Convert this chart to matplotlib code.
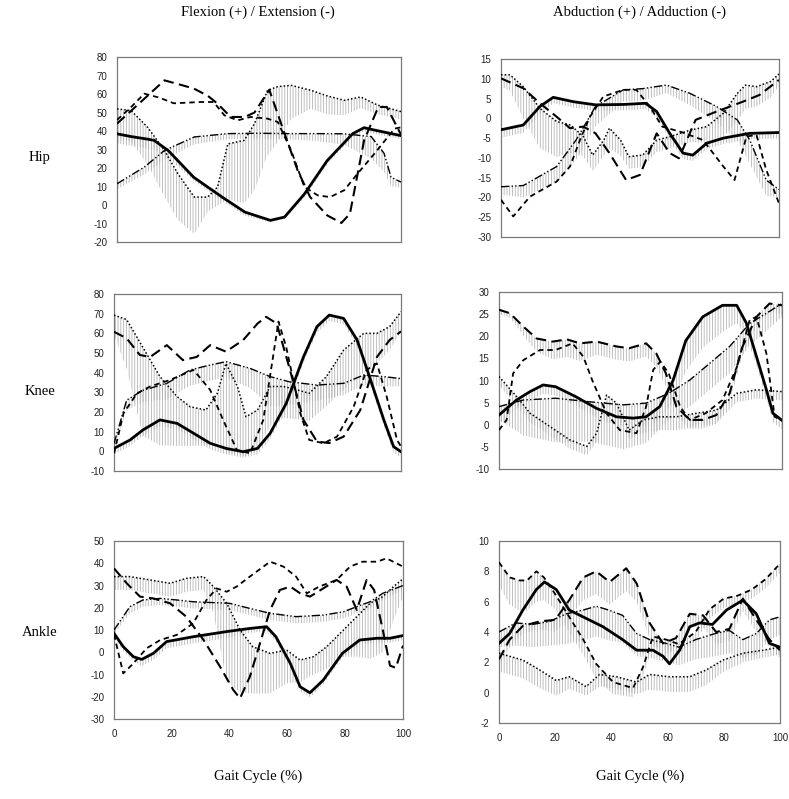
import numpy as np
import matplotlib
matplotlib.use('Agg')
import matplotlib.pyplot as plt

plt.rcParams['hatch.color'] = '#b4b4b4'
plt.rcParams['hatch.linewidth'] = 0.6
plt.rcParams['axes.unicode_minus'] = False

# ---------------- Hip, flexion / extension ----------------
HF_SOLID_X = [0, 5, 10, 13, 18, 27, 37, 45, 54, 59, 66, 74, 83, 87, 91, 100]
HF_SOLID_Y = [38.5, 37, 35.8, 35, 29.5, 15, 4.3, -3.8, -8.3, -6.5, 6, 24, 38.6, 41.8, 40.4, 37.5]
HF_SOLID_SD = [5, 5, 5, 5, 4, 2, 2, 2, 1, 1, 2, 2, 2, 2, 2, 2]
HF_LONG_X = [0, 5, 10, 16.7, 21, 27, 32, 35.4, 40, 45, 48.4, 53.6, 59, 63.6, 68, 74, 79, 82, 87, 92, 95, 100]
HF_LONG_Y = [44, 51, 58, 67.4, 65.6, 63, 59, 54.8, 47.6, 47.6, 50, 62.3, 38.6, 18.7, 4.3, -5.6, -9.7, -4.7, 35, 53, 53, 38]
HF_SHORT_X = [0, 5, 9.6, 15, 20, 29.6, 34, 37.8, 42.5, 47, 53, 56.6, 61.3, 66, 70.7, 75, 80, 84.7, 90.6, 97.7, 100]
HF_SHORT_Y = [46, 53, 60.2, 58, 55, 55.7, 55.7, 48.5, 45.8, 47.6, 46.7, 44.9, 29.5, 9.7, 5.2, 4.3, 8, 17, 27.7, 41.3, 42]
HF_DOT_X = [0, 5, 10.8, 16.7, 21.4, 27.2, 31.9, 35.4, 39, 44.8, 48.4, 53, 56.6, 61.3, 68.3, 74, 80, 85.8, 91.8, 100]
HF_DOT_Y = [52, 51, 42, 29.5, 17, 4.3, 4.3, 9.7, 33, 35, 44, 62, 64, 64.7, 62, 59, 56.6, 58.4, 54, 50.5]
HF_DOT_SD = [15, 17, 20, 25, 25, 20, 8, 10, 30, 34, 36, 35, 30, 18, 10, 10, 8, 6, 5, 4]
HF_DD_X = [0, 9.6, 16.7, 27.2, 39, 50, 60, 70, 80, 89.5, 94, 96.5, 100]
HF_DD_Y = [11.5, 20.5, 29.5, 36.8, 38.6, 38.8, 38.6, 38.6, 38.5, 37, 28, 15, 12.4]
HF_DD_SD = [3, 4, 5, 4, 3, 3, 3, 4, 6, 12, 10, 5, 3]

# ---------------- Hip, abduction / adduction ----------------
HA_SOLID_X = [0, 8, 14, 18.8, 26, 34, 44, 52, 56, 60.7, 65.5, 69, 74, 80, 89.5, 100]
HA_SOLID_Y = [-2.9, -1.7, 3, 5.3, 4.2, 3.4, 3.5, 3.8, 1.7, -3.8, -8.8, -9.3, -6.3, -5, -3.8, -3.6]
HA_SOLID_SD = [2, 2, 2, 1.5, 1.5, 1.5, 1.5, 1.5, 1.5, 1.5, 1.5, 1.5, 1.5, 1.5, 1.5, 1.5]
HA_LONG_X = [0, 8, 14, 20, 24.8, 29.6, 34, 39, 45, 50, 56, 60.7, 64, 70, 77.5, 87, 93, 100]
HA_LONG_Y = [10.1, 7.6, 3.8, 0.4, -2.5, -2.1, -3.8, -8.8, -15.6, -14.3, -3.8, -8.8, -10.1, -0.4, 1.7, 4.2, 5.9, 9.7]
HA_SHORT_X = [0, 4.4, 10.4, 20, 24.8, 28.4, 32, 36.8, 44, 48.7, 53.5, 58, 65, 72.7, 80, 84, 88.3, 91.9, 95.4, 100]
HA_SHORT_Y = [-20.6, -24.8, -19.8, -16, -12.2, -5.5, 0.4, 5.5, 7.2, 7.2, 3, -2.1, -3.5, -5.5, -12.2, -15.6, -4.6, -4.2, -13, -21.5]
HA_DOT_X = [0, 3.2, 8, 14, 20, 25, 29.6, 33, 37, 39, 43, 46, 51, 56, 61, 68, 74, 80, 85, 88, 92, 97, 100]
HA_DOT_Y = [11, 11, 8, 2.5, -0.8, -1.7, -4.6, -9.3, -5.5, -2.5, -5.5, -9.7, -9.3, -5.5, -4.6, -3, -2.1, 1.3, 6.3, 8.4, 8, 9.3, 11.2]
HA_DOT_SD = [3, 4, 8, 10, 9, 7, 5, 4, 4, 5, 4, 3, 3, 3, 3, 3, 4, 6, 7, 6, 5, 4, 3]
HA_DD_X = [0, 8, 20, 27, 34, 44, 51, 59.5, 68, 77.5, 85, 89.5, 95.4, 100]
HA_DD_Y = [-17.3, -17, -12.2, -5.5, 3, 7.2, 7.5, 8.4, 6.3, 3, -0.4, -5.5, -15.6, -18]
HA_DD_SD = [2, 3, 4, 5, 5, 3, 3, 2, 3, 4, 5, 6, 4, 2]

# ---------------- Knee, flexion / extension ----------------
KF_SOLID_X = [0, 5.6, 10, 16, 22, 27.7, 33.5, 39, 45, 50, 54.4, 60, 66, 70.7, 75, 80, 84.7, 89, 94, 97.4, 100]
KF_SOLID_Y = [1.5, 5.8, 10.8, 16, 14.2, 9.2, 4.1, 1.5, -0.2, 1.5, 9.2, 24.4, 48, 63.4, 69.3, 67.6, 56.6, 38, 16, 2.4, -0.2]
KF_SOLID_SD = [3] * 21
KF_LONG_X = [0, 4.4, 9, 12.6, 18.4, 24, 28.8, 33.5, 39, 45, 50, 53, 56.7, 61, 66, 70.7, 75, 80, 85.8, 91.6, 96, 100]
KF_LONG_Y = [60.8, 57.5, 49, 48, 54, 46.4, 48, 54, 50.7, 56.6, 65, 68.4, 65, 43, 16, 5, 4.2, 7.5, 21, 48, 56.6, 61]
KF_SHORT_X = [0, 3.3, 8, 12.6, 19.5, 27.7, 33.5, 38, 42.8, 47.4, 52, 57.3, 60, 64.9, 68, 73, 77.7, 83.5, 88, 91.6, 95, 98.6, 100]
KF_SHORT_Y = [-1, 19.3, 29.5, 33, 36.3, 41.4, 31.2, 16, 0.7, -1, 16, 66, 53, 19.3, 5.8, 4.1, 7.5, 22.7, 41.4, 44.7, 27.8, 5.8, 2.4]
KF_DOT_X = [0, 4.4, 10, 16, 22, 26.5, 32, 36, 39, 43, 46, 50, 54.4, 59, 64, 68, 74, 80, 87, 91.6, 96, 100]
KF_DOT_Y = [69.3, 67, 53, 38, 27.8, 22.7, 21, 29.5, 44.7, 33, 17.6, 21, 33, 33, 31.2, 29.5, 38, 51.5, 60, 60, 63.4, 71]
KF_DOT_SD = [10, 25, 45, 35, 25, 20, 18, 25, 45, 35, 20, 20, 20, 16, 15, 14, 15, 20, 20, 15, 12, 10]
KF_DD_X = [0, 4.4, 10, 18.4, 26.5, 33.5, 39, 47.4, 54.4, 61, 70.7, 80, 87, 94, 100]
KF_DD_Y = [4, 26, 31, 34.6, 41.4, 43.9, 45.6, 42.2, 38, 35.4, 33.7, 34.6, 38.8, 38, 37]
KF_DD_SD = [2, 5, 6, 8, 8, 8, 8, 10, 15, 12, 8, 6, 5, 5, 4]

# ---------------- Knee, abduction / adduction ----------------
KA_SOLID_X = [0, 6.2, 11, 15.6, 20, 27, 34.5, 41.5, 47.4, 52, 56.8, 61.5, 66, 72, 79, 84, 87.4, 91, 94.5, 96.8, 100]
KA_SOLID_Y = [2.2, 5.6, 7.5, 9, 8.6, 6.4, 3.7, 1.8, 1.5, 1.8, 4.1, 10, 19, 24.4, 27, 27, 23, 15.4, 7.9, 2.6, 1]
KA_SOLID_SD = [2, 2, 2, 2, 2, 2, 2, 2, 2, 2, 3, 5, 7, 7, 6, 4, 3, 2, 2, 2, 2]
KA_LONG_X = [0, 3.9, 8.6, 13.3, 19, 24, 28.6, 34.5, 41.5, 46, 52, 55.6, 59, 62.7, 67.4, 72, 76.8, 81.5, 86, 91, 95.6, 100]
KA_LONG_Y = [26, 25.2, 22.2, 19.5, 18.8, 19.3, 18.4, 18.8, 17.7, 17.3, 18.4, 16.1, 11.6, 4.1, 1.1, 1.1, 2.2, 7.1, 17.6, 24.4, 27.4, 27]
KA_LONG_SD = [1, 1, 2, 3, 4, 4, 4, 3, 3, 3, 3, 3, 3, 2, 2, 2, 2, 2, 2, 2, 2, 2]
KA_SHORT_X = [0, 2.7, 5, 8.6, 14.5, 20, 26, 29.8, 33, 38, 42.7, 48.6, 52, 54.5, 57, 60, 64, 67.4, 73, 79, 84, 88.6, 91, 94.5, 97.4, 100]
KA_SHORT_Y = [-1.2, 1.1, 11.6, 14.6, 16.9, 16.9, 18.4, 15.4, 10, 2.6, -1.2, -1.9, 4.1, 12.4, 14.3, 11.6, 4.1, 1.1, 2.6, 5.6, 13, 23.7, 24.4, 16.1, 1.8, 1]
KA_DOT_X = [0, 6.2, 11, 18, 25, 31, 34.5, 38, 41.5, 46, 51, 56.8, 62.7, 69.8, 76.8, 84, 91, 100]
KA_DOT_Y = [10.9, 6.4, 2.6, -0.4, -3.4, -4.9, -1.9, 6.7, 4.9, -1.2, 1.1, 1.8, 1.8, 2.6, 3.3, 7.1, 7.9, 7.5]
KA_DOT_SD = [2, 2, 2, 2, 2, 2, 2, 2, 2, 2, 3, 3, 3, 3, 3, 2, 2, 2]
KA_DD_X = [0, 8.6, 20, 32, 44, 52, 60, 67.4, 74.5, 81.5, 88.6, 94.5, 100]
KA_DD_Y = [4.1, 5.6, 6, 5.2, 4.5, 4.9, 7.1, 10.1, 13.9, 17.7, 22.9, 25.2, 27.4]
KA_DD_SD = [3, 8, 10, 9, 10, 9, 6, 6, 6, 6, 5, 4, 3]

# ---------------- Ankle, flexion / extension ----------------
AF_SOLID_X = [0, 3.2, 6.7, 9.6, 13.6, 18.2, 27.5, 39, 47, 52.8, 56, 61, 64.4, 67.8, 72.4, 79, 85, 91, 95.5, 100]
AF_SOLID_Y = [8.5, 2.5, -2, -3.2, -0.5, 4.8, 7, 9.3, 10.7, 11.5, 7, -5, -15.5, -18.2, -12.5, -0.5, 5.5, 6.3, 6.3, 7.5]
AF_SOLID_SD = [2, 2, 2, 3, 3, 3, 3, 3, 2, 2, 2, 2, 2, 2, 2, 2, 2, 2, 2, 2]
AF_LONG_X = [0, 4.4, 9, 13.6, 19.4, 25, 31, 36.7, 41.3, 43.6, 47, 50.5, 54, 57.4, 61, 64.4, 67.8, 72.4, 77, 80.5, 84, 87.4, 90, 93, 95.5, 97.5, 100]
AF_LONG_Y = [37.7, 31, 25, 24.2, 22, 16, 5.5, -6.5, -17, -20.7, -11, 4, 19, 28, 29.5, 26.5, 25, 28.7, 32.5, 29.5, 19, 32.5, 28, 10, -6, -7, 3]
AF_SHORT_X = [0, 3.2, 6.7, 11.3, 16, 21.7, 27.4, 32, 35.5, 39, 42.4, 47, 54, 58.6, 63, 66.7, 71, 77, 81.7, 86, 91, 94.3, 100]
AF_SHORT_Y = [8, -9.5, -5, 1.8, 5.5, 7.8, 13, 23.5, 28.7, 27.2, 29.5, 34, 40.7, 38.5, 34, 26.5, 29.5, 32.5, 38.5, 40.7, 40.7, 42.2, 38.5]
AF_DOT_X = [0, 5.5, 12.5, 19.4, 25, 31, 34.4, 39, 43.6, 48, 54, 59.7, 64.4, 69, 73.6, 79.4, 84, 88.6, 93, 96.7, 100]
AF_DOT_Y = [34, 34, 32.5, 31, 33.2, 34, 29.5, 22, 10, 2.5, -0.5, 1, -3.5, -2, 2.5, 10, 16, 22, 25, 29.5, 33]
AF_DOT_SD = [6, 6, 6, 6, 6, 6, 12, 35, 28, 21, 18, 15, 10, 8, 10, 12, 18, 25, 25, 15, 8]
AF_DD_X = [0, 5.5, 10, 16, 21.7, 27.4, 40, 47, 54, 63, 72.4, 79.4, 84, 88.6, 93, 100]
AF_DD_Y = [10, 20.5, 23.5, 24.2, 23.5, 22.7, 22, 19.7, 17.5, 16, 16.7, 18.2, 20.5, 22.7, 26.5, 30]
AF_DD_SD = [2, 3, 3, 3, 3, 3, 3, 3, 3, 3, 3, 3, 3, 3, 3, 2]

# ---------------- Ankle, abduction / adduction ----------------
AA_SOLID_X = [0, 3.8, 8.5, 13.3, 16.2, 20.4, 25, 31, 37, 44, 49, 54.8, 58.4, 60.7, 64.3, 67.9, 71.4, 76, 81, 86.8, 91.6, 96.3, 100]
AA_SOLID_Y = [3.25, 3.9, 5.45, 6.8, 7.3, 6.8, 5.45, 4.9, 4.35, 3.5, 2.8, 2.8, 2.4, 1.9, 2.8, 4.35, 4.6, 4.5, 5.45, 6.1, 5.2, 3.25, 3]
AA_LONG_X = [0, 3.8, 8.5, 14.5, 20, 25, 30, 34.6, 39.4, 45.3, 49, 53.6, 58.4, 63, 67.9, 72.6, 77.3, 82, 86.8, 91.6, 96.3, 100]
AA_LONG_Y = [2.2, 3.5, 4.4, 4.7, 4.8, 6.1, 7.6, 8, 7.3, 8.2, 7.2, 4.6, 3.25, 3.6, 5.2, 5.1, 4, 4.2, 6.2, 4.8, 3.5, 2.8]
AA_LONG_SD = [0.5, 0.5, 0.5, 0.5, 0.8, 1.2, 1.5, 1.5, 1.5, 1.5, 1.2, 1, 0.8, 0.8, 0.8, 0.8, 0.8, 0.8, 0.8, 0.8, 0.5, 0.5]
AA_SHORT_X = [0, 3.8, 7.3, 10, 13.3, 16, 20, 25, 30, 34.6, 40.6, 47.7, 51.3, 54.8, 59.5, 64, 70, 75, 80, 85, 90, 95, 100]
AA_SHORT_Y = [8.6, 7.6, 7.4, 7.4, 8, 7.6, 6.5, 5, 3.5, 1.9, 0.7, 0.3, 1.7, 3.7, 3.5, 3.2, 4, 5.5, 6.2, 6.4, 6.8, 7.5, 8.5]
AA_SHORT_SD = [1.5, 1.8, 2, 2, 2, 1.5, 1, 1, 1, 1, 0.8, 0.6, 0.6, 0.6, 0.6, 0.6, 0.6, 0.6, 0.6, 0.6, 0.6, 0.6, 0.6]
AA_DOT_X = [0, 8.5, 14.5, 20.4, 25, 31, 35.8, 41.8, 49, 53.6, 60.7, 67.9, 73.8, 79.7, 86.8, 94, 100]
AA_DOT_Y = [2.6, 2.15, 1.5, 0.8, 1.05, 0.4, 1.2, 1.05, 0.7, 1.2, 1.05, 1.05, 1.5, 2.15, 2.6, 2.8, 3]
AA_DOT_SD = [1.2, 1.2, 1.2, 1.0, 0.8, 0.6, 0.8, 0.8, 0.8, 1, 1, 1, 1, 0.8, 0.6, 0.5, 0.5]
AA_DD_X = [0, 6, 12, 18, 24, 30, 34.6, 39, 44, 49, 53.6, 59.5, 64, 70, 77, 82, 86.8, 91.6, 96.3, 100]
AA_DD_Y = [4, 4.6, 4.5, 4.7, 5.2, 5.45, 5.7, 5.45, 5.1, 3.9, 3.5, 3.25, 3, 3.5, 3.9, 4.1, 3.5, 3.9, 4.8, 5]
AA_DD_SD = [1, 1.5, 1.5, 1.6, 2, 2, 2, 2, 1.8, 1.5, 1.2, 1.2, 1.2, 1.3, 1.5, 1.5, 1.2, 1.4, 1.3, 1.2]

COL_TITLES = ['Flexion (+) / Extension (-)', 'Abduction (+) / Adduction (-)']
ROW_TITLES = ['Hip', 'Knee', 'Ankle']
X_TICKS = [0, 20, 40, 60, 80, 100]

STYLES = {
    'solid': dict(linestyle='-', linewidth=2.0),
    'long': dict(linestyle=(0, (5, 2.6)), linewidth=1.5),
    'short': dict(linestyle=(0, (3, 2.2)), linewidth=1.3),
    'dot': dict(linestyle=(0, (1, 1.4)), linewidth=1.1),
    'dd': dict(linestyle=(0, (6, 1.6, 1, 1.6, 1, 1.6)), linewidth=1.0),
}

# panel: (axes rect, ylim, yticks, series list)
PANELS = [
    ([0.1483, 0.6971, 0.3600, 0.2315], (-20, 80), range(-20, 81, 10), [
        ('dd', HF_DD_X, HF_DD_Y, HF_DD_SD), ('dot', HF_DOT_X, HF_DOT_Y, HF_DOT_SD),
        ('short', HF_SHORT_X, HF_SHORT_Y, None), ('long', HF_LONG_X, HF_LONG_Y, None),
        ('solid', HF_SOLID_X, HF_SOLID_Y, HF_SOLID_SD)]),
    ([0.6350, 0.7034, 0.3523, 0.2228], (-30, 15), range(-30, 16, 5), [
        ('dd', HA_DD_X, HA_DD_Y, HA_DD_SD), ('dot', HA_DOT_X, HA_DOT_Y, HA_DOT_SD),
        ('short', HA_SHORT_X, HA_SHORT_Y, None), ('long', HA_LONG_X, HA_LONG_Y, None),
        ('solid', HA_SOLID_X, HA_SOLID_Y, HA_SOLID_SD)]),
    ([0.1445, 0.4105, 0.3638, 0.2215], (-10, 80), range(-10, 81, 10), [
        ('dd', KF_DD_X, KF_DD_Y, KF_DD_SD), ('dot', KF_DOT_X, KF_DOT_Y, KF_DOT_SD),
        ('short', KF_SHORT_X, KF_SHORT_Y, None), ('long', KF_LONG_X, KF_LONG_Y, None),
        ('solid', KF_SOLID_X, KF_SOLID_Y, KF_SOLID_SD)]),
    ([0.6324, 0.4130, 0.3587, 0.2215], (-10, 30), range(-10, 31, 5), [
        ('dd', KA_DD_X, KA_DD_Y, KA_DD_SD), ('dot', KA_DOT_X, KA_DOT_Y, KA_DOT_SD),
        ('short', KA_SHORT_X, KA_SHORT_Y, None), ('long', KA_LONG_X, KA_LONG_Y, KA_LONG_SD),
        ('solid', KA_SOLID_X, KA_SOLID_Y, KA_SOLID_SD)]),
    ([0.1445, 0.1001, 0.3663, 0.2228], (-30, 50), range(-30, 51, 10), [
        ('dd', AF_DD_X, AF_DD_Y, AF_DD_SD), ('dot', AF_DOT_X, AF_DOT_Y, AF_DOT_SD),
        ('short', AF_SHORT_X, AF_SHORT_Y, None), ('long', AF_LONG_X, AF_LONG_Y, None),
        ('solid', AF_SOLID_X, AF_SOLID_Y, AF_SOLID_SD)]),
    ([0.6324, 0.0951, 0.3561, 0.2278], (-2, 10), range(-2, 11, 2), [
        ('dd', AA_DD_X, AA_DD_Y, AA_DD_SD), ('dot', AA_DOT_X, AA_DOT_Y, AA_DOT_SD),
        ('short', AA_SHORT_X, AA_SHORT_Y, AA_SHORT_SD), ('long', AA_LONG_X, AA_LONG_Y, AA_LONG_SD),
        ('solid', AA_SOLID_X, AA_SOLID_Y, None)]),
]

fig = plt.figure(figsize=(7.89, 7.99), dpi=100)
fig.patch.set_facecolor('white')

for i, (rect, ylim, yticks, series) in enumerate(PANELS):
    ax = fig.add_axes(rect)
    # grey SD bars first, drawn as dense vertical hatching under each curve
    for style, x, y, sd in series:
        if sd is None:
            continue
        y = np.asarray(y, dtype=float)
        lo = y - np.asarray(sd, dtype=float)
        ax.fill_between(x, y, lo, facecolor='none', edgecolor='#b4b4b4',
                        hatch='||||||', linewidth=0, zorder=1)
    for style, x, y, sd in series:
        ax.plot(x, y, color='black', zorder=3, **STYLES[style])

    ax.set_xlim(0, 100)
    ax.set_ylim(*ylim)
    ax.set_yticks(list(yticks))
    ax.set_xticks(X_TICKS)
    ax.tick_params(length=0, labelsize=7, pad=7, colors='#222222',
                   labelbottom=(i >= 4))
    for lab in ax.get_xticklabels() + ax.get_yticklabels():
        lab.set_family('Liberation Sans')
    for sp in ax.spines.values():
        sp.set_color('#7a7a7a')
        sp.set_linewidth(0.9)

serif = dict(family='Liberation Serif', fontsize=10.5, ha='center', va='center')
fig.text(0.327, 0.985, COL_TITLES[0], **serif)
fig.text(0.811, 0.985, COL_TITLES[1], **serif)
for name, yy in zip(ROW_TITLES, [0.8035, 0.5106, 0.209]):
    fig.text(0.0507, yy, name, **serif)
fig.text(0.327, 0.0288, 'Gait Cycle (%)', **serif)
fig.text(0.811, 0.0288, 'Gait Cycle (%)', **serif)

fig.savefig('out.png', dpi=100)
